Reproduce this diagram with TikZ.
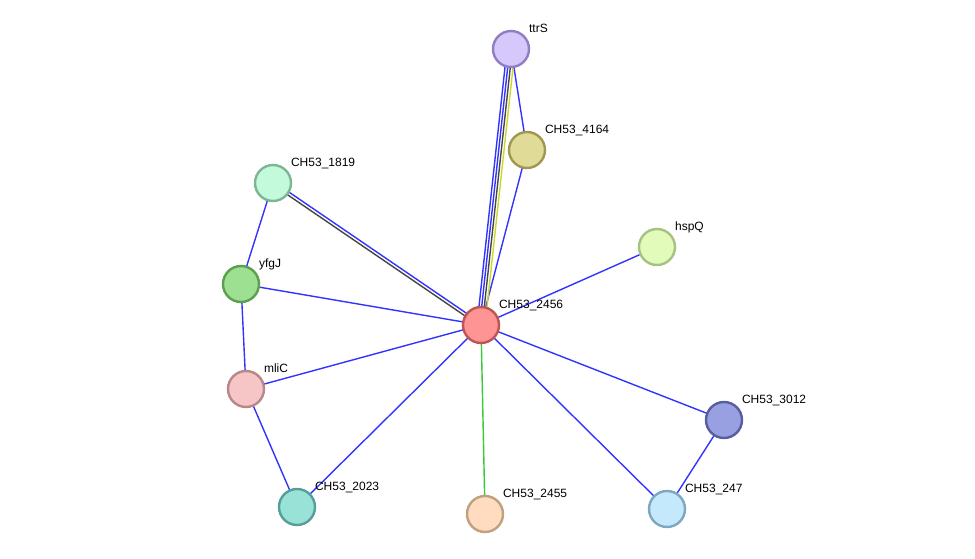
\documentclass[tikz,border=0pt]{standalone}
\usepackage{fontspec}
\newfontfamily\lblfont{Liberation Sans}
\usetikzlibrary{calc,backgrounds}

\definecolor{edgeblue}{RGB}{51,51,255}
\definecolor{edgegrey}{RGB}{70,70,70}
\definecolor{edgeyellow}{RGB}{200,215,50}
\definecolor{edgegreen}{RGB}{60,200,60}
% node fill / border colours
\definecolor{cFill}{RGB}{255,148,148}   \definecolor{cLine}{RGB}{190,85,85}
\definecolor{ttrFill}{RGB}{214,200,250} \definecolor{ttrLine}{RGB}{145,125,195}
\definecolor{aFill}{RGB}{224,220,152}   \definecolor{aLine}{RGB}{160,152,80}
\definecolor{bFill}{RGB}{196,250,220}   \definecolor{bLine}{RGB}{124,182,146}
\definecolor{hFill}{RGB}{226,250,186}   \definecolor{hLine}{RGB}{165,195,128}
\definecolor{yFill}{RGB}{158,224,146}   \definecolor{yLine}{RGB}{94,158,80}
\definecolor{mFill}{RGB}{246,198,198}   \definecolor{mLine}{RGB}{184,135,135}
\definecolor{dFill}{RGB}{152,160,226}   \definecolor{dLine}{RGB}{86,94,158}
\definecolor{eFill}{RGB}{152,226,216}   \definecolor{eLine}{RGB}{86,158,150}
\definecolor{fFill}{RGB}{255,220,192}   \definecolor{fLine}{RGB}{192,160,126}
\definecolor{gFill}{RGB}{196,232,252}   \definecolor{gLine}{RGB}{126,168,192}

\begin{document}
\begin{tikzpicture}[
    x=1pt, y=-1pt,
    prot/.style 2 args={circle, draw=#2, fill=#1, line width=2.4pt, minimum size=36pt, inner sep=0pt},
    lbl/.style={font=\lblfont\fontsize{12}{14}\selectfont, inner sep=0pt, anchor=base west, xshift=4.3pt, yshift=3.2pt},
    link/.style={edgeblue, line width=1.4pt},
    multi/.style={line width=1.4pt}
]
\useasboundingbox (0,0) rectangle (975,559);

% proteins
\node[prot={cFill}{cLine}, label={[lbl]45:CH53\_2456}] (c) at (481,325) {};
\node[prot={ttrFill}{ttrLine}, label={[lbl]45:ttrS}] (ttrS) at (511,49) {};
\node[prot={aFill}{aLine}, label={[lbl]45:CH53\_4164}] (p4164) at (527,150) {};
\node[prot={bFill}{bLine}, label={[lbl]45:CH53\_1819}] (p1819) at (273,183) {};
\node[prot={hFill}{hLine}, label={[lbl]45:hspQ}] (hspQ) at (657,247) {};
\node[prot={yFill}{yLine}, label={[lbl]45:yfgJ}] (yfgJ) at (241,284) {};
\node[prot={mFill}{mLine}, label={[lbl]45:mliC}] (mliC) at (246,389) {};
\node[prot={dFill}{dLine}, label={[lbl]45:CH53\_3012}] (p3012) at (724,420) {};
\node[prot={eFill}{eLine}, label={[lbl]45:CH53\_2023}] (p2023) at (297,507) {};
\node[prot={fFill}{fLine}, label={[lbl]45:CH53\_2455}] (p2455) at (485,514) {};
\node[prot={gFill}{gLine}, label={[lbl]45:CH53\_247}] (p247) at (667,509) {};

% interactions
\begin{pgfonlayer}{background}
\draw[link] (p1819.center) -- (yfgJ.center);
\draw[link] (yfgJ.center) -- (mliC.center);
\draw[link] (yfgJ.center) -- (c.center);
\draw[link] (mliC.center) -- (c.center);
\draw[link] (mliC.center) -- (p2023.center);
\draw[link] (p2023.center) -- (c.center);
\draw[link] (p247.center) -- (c.center);
\draw[link] (p3012.center) -- (c.center);
\draw[link] (p3012.center) -- (p247.center);
\draw[link] (hspQ.center) -- (c.center);
\draw[link] (p4164.center) -- (c.center);
\draw[link] (ttrS.center) -- (p4164.center);
\draw[multi, edgegreen] (p2455.center) -- (c.center);
% double link to CH53_1819
\draw[multi, edgeblue] ($(p1819.center)!1.5pt!90:(c.center)$) -- ($(c.center)!1.5pt!-90:(p1819.center)$);
\draw[multi, edgegrey] ($(p1819.center)!1.5pt!-90:(c.center)$) -- ($(c.center)!1.5pt!90:(p1819.center)$);
% four links to ttrS
\foreach \off/\col in {-4/edgeblue, -1.3/edgeblue, 1.3/edgegrey, 4/edgeyellow}
  \draw[multi, \col] ($(ttrS.center)!\off pt!90:(c.center)$) -- ($(c.center)!\off pt!-90:(ttrS.center)$);
\end{pgfonlayer}
\end{tikzpicture}
\end{document}
